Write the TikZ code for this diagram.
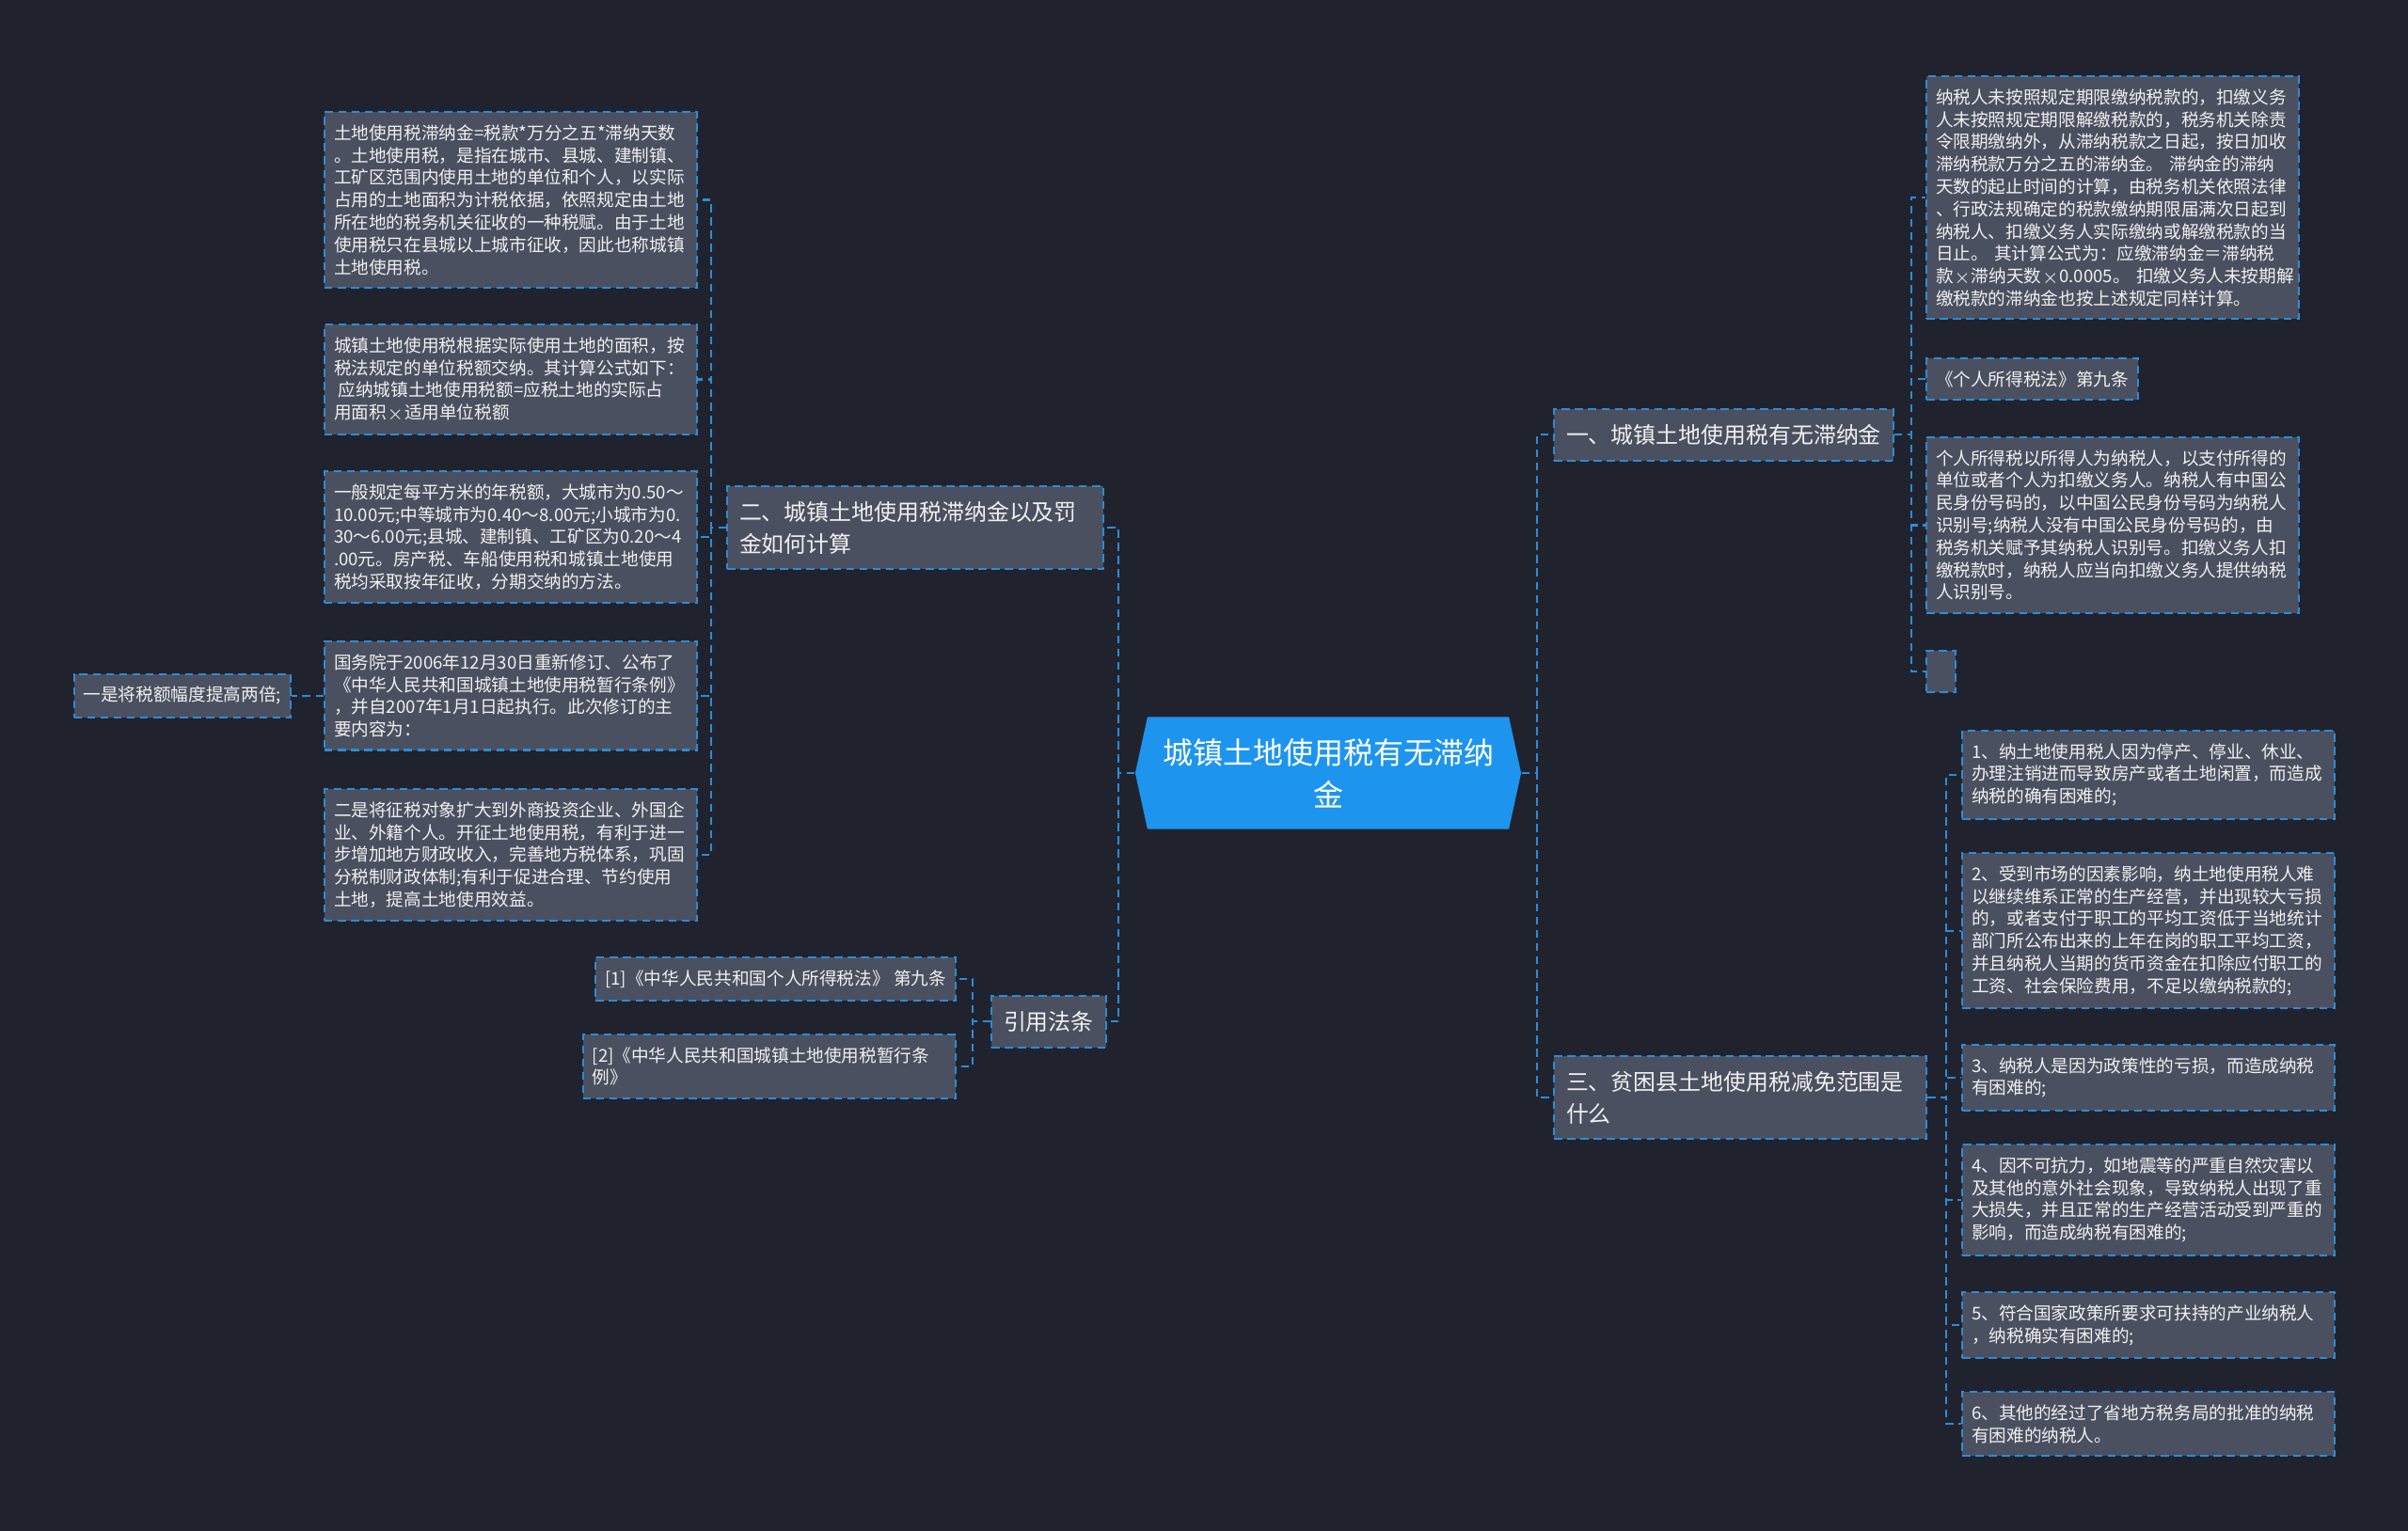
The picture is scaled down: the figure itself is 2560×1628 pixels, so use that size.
\documentclass[tikz,border=0pt]{standalone}
\usepackage{fontspec}
\setmainfont{Noto Sans CJK SC}
\usepackage{tikz}
\definecolor{grund}{HTML}{20232E}
\definecolor{fuell}{HTML}{4A505F}
\definecolor{rand}{HTML}{2B8CD8}
\definecolor{kernb}{HTML}{1D95EE}
\definecolor{weiss}{HTML}{F0F0F0}
\newcommand{\mal}{\ensuremath{\times}}
\tikzset{
  verb/.style={rand,line width=0.6pt,dash pattern=on 2.4pt off 1.6pt},
  feld/.style={draw=rand,fill=fuell,line width=0.6pt,dash pattern=on 2.4pt off 1.6pt,text=weiss,
    font=\fontsize{5.3pt}{6.77pt}\selectfont,align=left,inner xsep=0.1cm,inner ysep=3.8pt,anchor=north west},
  blatt/.style={feld,text width=3.76cm},
  ast/.style={feld,font=\fontsize{6.8pt}{9.6pt}\selectfont,inner xsep=0.13cm,inner ysep=4.6pt},
  kern/.style={fill=grund,minimum width=4.1cm,minimum height=1.19cm,align=center,text=white,
    font=\fontsize{9.1pt}{12.8pt}\selectfont,inner sep=0pt,
    path picture={\fill[kernb] ([xshift=0.13cm]path picture bounding box.north west)
      -- ([xshift=-0.13cm]path picture bounding box.north east) -- (path picture bounding box.east)
      -- ([xshift=-0.13cm]path picture bounding box.south east)
      -- ([xshift=0.13cm]path picture bounding box.south west) -- (path picture bounding box.west) -- cycle;}},
}
\begin{document}
\begin{tikzpicture}[x=0.01cm,y=-0.01cm]
  \useasboundingbox (0,0) rectangle (2560,1628);
  \fill[grund] (0,0) rectangle (2560,1628);
  \node[kern] (ctr) at (1412,822) {城镇土地使用税有无滞纳\\金};
  % links
  \node[ast,text width=3.74cm] (n2) at (772,516) {二、城镇土地使用税滞纳金以及罚\\金如何计算};
  \node[ast] (law) at (1053,1058) {引用法条};
  \node[blatt] (b1) at (344,118) {土地使用税滞纳金=税款*万分之五*滞纳天数\\。土地使用税，是指在城市、县城、建制镇、\\工矿区范围内使用土地的单位和个人，以实际\\占用的土地面积为计税依据，依照规定由土地\\所在地的税务机关征收的一种税赋。由于土地\\使用税只在县城以上城市征收，因此也称城镇\\土地使用税。};
  \node[blatt] (b2) at (344,344) {城镇土地使用税根据实际使用土地的面积，按\\税法规定的单位税额交纳。其计算公式如下：\\\hspace*{0.25em}应纳城镇土地使用税额=应税土地的实际占\\用面积\mal 适用单位税额};
  \node[blatt] (b3) at (344,500) {一般规定每平方米的年税额，大城市为0.50～\\10.00元;中等城市为0.40～8.00元;小城市为0.\\30～6.00元;县城、建制镇、工矿区为0.20～4\\.00元。房产税、车船使用税和城镇土地使用\\税均采取按年征收，分期交纳的方法。};
  \node[blatt] (b4) at (344,681) {国务院于2006年12月30日重新修订、公布了\\《中华人民共和国城镇土地使用税暂行条例》\\，并自2007年1月1日起执行。此次修订的主\\要内容为：};
  \node[blatt] (b5) at (344,838) {二是将征税对象扩大到外商投资企业、外国企\\业、外籍个人。开征土地使用税，有利于进一\\步增加地方财政收入，完善地方税体系，巩固\\分税制财政体制;有利于促进合理、节约使用\\土地，提高土地使用效益。};
  \node[feld,anchor=east,xshift=-0.34cm] (klein) at (b4.west) {一是将税额幅度提高两倍;};
  \node[feld,anchor=north east] (ref1) at (1017,1017) {[1]《中华人民共和国个人所得税法》 第九条};
  \node[blatt,anchor=north east] (ref2) at (1017,1099) {[2]《中华人民共和国城镇土地使用税暂行条\\例》};
  % rechts
  \node[ast] (n1) at (1651,434) {一、城镇土地使用税有无滞纳金};
  \node[ast,text width=3.70cm] (n3) at (1651,1122) {三、贫困县土地使用税减免范围是\\什么};
  \node[blatt] (r1) at (2047,80) {纳税人未按照规定期限缴纳税款的，扣缴义务\\人未按照规定期限解缴税款的，税务机关除责\\令限期缴纳外，从滞纳税款之日起，按日加收\\滞纳税款万分之五的滞纳金。 滞纳金的滞纳\\天数的起止时间的计算，由税务机关依照法律\\、行政法规确定的税款缴纳期限届满次日起到\\纳税人、扣缴义务人实际缴纳或解缴税款的当\\日止。~其计算公式为：应缴滞纳金＝滞纳税\\款\mal 滞纳天数\mal 0.0005。~扣缴义务人未按期解\\缴税款的滞纳金也按上述规定同样计算。};
  \node[feld] (r2) at (2047,380) {《个人所得税法》第九条};
  \node[blatt] (r3) at (2047,464) {个人所得税以所得人为纳税人，以支付所得的\\单位或者个人为扣缴义务人。纳税人有中国公\\民身份号码的，以中国公民身份号码为纳税人\\识别号;纳税人没有中国公民身份号码的，由\\税务机关赋予其纳税人识别号。扣缴义务人扣\\缴税款时，纳税人应当向扣缴义务人提供纳税\\人识别号。};
  \node[feld,minimum width=0.31cm,minimum height=0.44cm] (r4) at (2047,691) {};
  \node[blatt] (s1) at (2085,776) {1、纳土地使用税人因为停产、停业、休业、\\办理注销进而导致房产或者土地闲置，而造成\\纳税的确有困难的;};
  \node[blatt] (s2) at (2085,906) {2、受到市场的因素影响，纳土地使用税人难\\以继续维系正常的生产经营，并出现较大亏损\\的，或者支付于职工的平均工资低于当地统计\\部门所公布出来的上年在岗的职工平均工资，\\并且纳税人当期的货币资金在扣除应付职工的\\工资、社会保险费用，不足以缴纳税款的;};
  \node[blatt] (s3) at (2085,1110) {3、纳税人是因为政策性的亏损，而造成纳税\\有困难的;};
  \node[blatt] (s4) at (2085,1216) {4、因不可抗力，如地震等的严重自然灾害以\\及其他的意外社会现象，导致纳税人出现了重\\大损失，并且正常的生产经营活动受到严重的\\影响，而造成纳税有困难的;};
  \node[blatt] (s5) at (2085,1373) {5、符合国家政策所要求可扶持的产业纳税人\\，纳税确实有困难的;};
  \node[blatt] (s6) at (2085,1479) {6、其他的经过了省地方税务局的批准的纳税\\有困难的纳税人。};
  % verbindungen
  \foreach \k in {n1,n3} \draw[verb] (ctr.east) -- ++(16,0) |- (\k.west);
  \foreach \k in {n2,law} \draw[verb] (ctr.west) -- ++(-17,0) |- (\k.east);
  \foreach \k in {b1,b2,b3,b4,b5} \draw[verb] (n2.west) -- ++(-16,0) |- (\k.east);
  \foreach \k in {ref1,ref2} \draw[verb] (law.west) -- ++(-19,0) |- (\k.east);
  \foreach \k in {r1,r2,r3,r4} \draw[verb] (n1.east) -- ++(18,0) |- (\k.west);
  \foreach \k in {s1,s2,s3,s4,s5,s6} \draw[verb] (n3.east) -- ++(20,0) |- (\k.west);
  \draw[verb] (b4.west) -- (klein.east);
\end{tikzpicture}
\end{document}
